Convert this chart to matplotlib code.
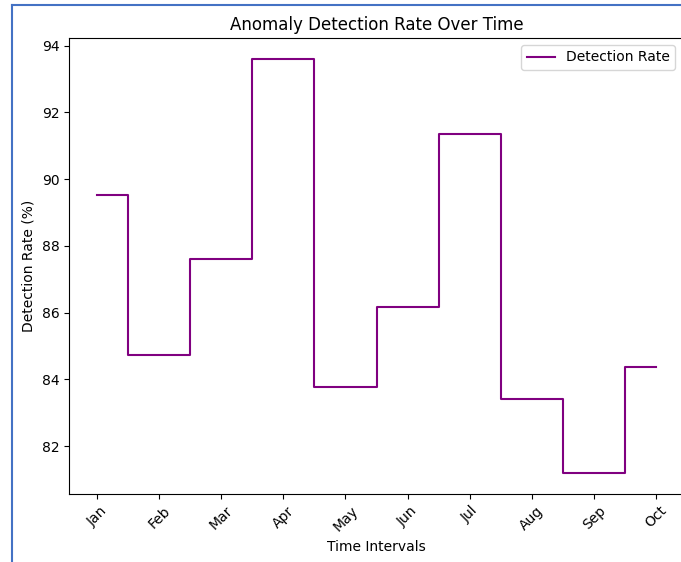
import matplotlib
matplotlib.use("Agg")
import matplotlib.pyplot as plt
from matplotlib.lines import Line2D

months = ['Jan', 'Feb', 'Mar', 'Apr', 'May', 'Jun', 'Jul', 'Aug', 'Sep', 'Oct']
detection_rate = [89.54, 84.74, 87.62, 93.61, 83.76, 86.16, 91.34, 83.43, 81.19, 84.36]

fig = plt.figure(figsize=(6.81, 5.62), dpi=100)
# axes run a little past the right edge, like the cropped screenshot
ax = fig.add_axes([69 / 681, 68 / 562, 615 / 681, 456 / 562])
ax.spines['right'].set_visible(False)

ax.step(range(len(months)), detection_rate, where='mid', color='purple',
        linewidth=1.5, label='Detection Rate')
ax.set_xticks(range(len(months)))
ax.set_xticklabels(months, rotation=45)
ax.set_title('Anomaly Detection Rate Over Time')
ax.set_xlabel('Time Intervals')
ax.set_ylabel('Detection Rate (%)')
ax.legend(loc='upper right', bbox_to_anchor=(1 - 2 / 615, 1))

# screenshot frame edges
fig.add_artist(Line2D([12 / 681, 12 / 681], [0, 1 - 5 / 562], color='#4472c4', linewidth=1.5))
fig.add_artist(Line2D([12 / 681, 1], [1 - 5 / 562, 1 - 5 / 562], color='#4472c4', linewidth=1.5))

fig.savefig('out.png', dpi=100)
